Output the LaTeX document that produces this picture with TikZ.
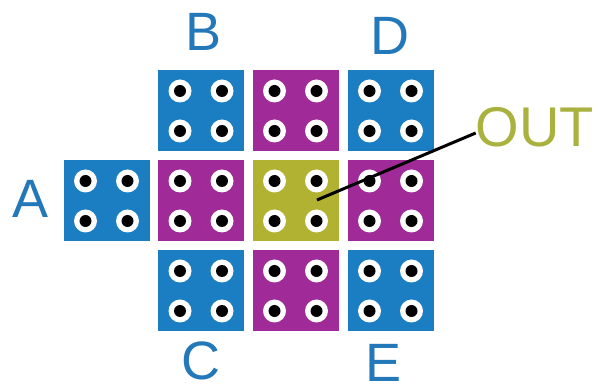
\documentclass[tikz,border=0pt]{standalone}
\usepackage{fontspec}
\setmainfont{Liberation Sans}
\definecolor{pblue}{HTML}{1C7EC2}
\definecolor{pmag}{HTML}{A02A98}
\definecolor{polive}{HTML}{B2B232}
\definecolor{lblue}{HTML}{2278B8}
\definecolor{lolive}{HTML}{A9B23E}
\begin{document}
\begin{tikzpicture}[x=1pt,y=-1pt,
  pad/.style={rectangle, fill=#1, minimum width=86pt, minimum height=81pt, inner sep=0pt},
  lbl/.style={text=lblue, font=\fontsize{54}{54}\selectfont, inner sep=0pt},
  outlbl/.style={text=lolive, font=\fontsize{56}{56}\selectfont, inner sep=0pt},
  ring/.style={fill=white},
  hole/.style={fill=black},
  lead/.style={draw=black, line width=3pt}]
\useasboundingbox (0,0) rectangle (600,387);
\foreach \n/\x/\y/\c in {
    pA/106.5/201/pblue,
    pB/201/111/pblue, pBD/295.5/111/pmag, pD/390.5/111/pblue,
    pL/201/201/pmag, pO/295.5/201/polive, pR/390.5/201/pmag,
    pC/201/291/pblue, pCE/295.5/291/pmag, pE/390.5/291/pblue} {
  \node[pad=\c] (\n) at (\x,\y) {};
  \foreach \dx in {-21,21} {
    \foreach \dy in {-20,20} {
      \fill[ring] (\x+\dx,\y+\dy) circle[radius=11.5pt];
      \fill[hole] (\x+\dx,\y+\dy) circle[radius=6pt];
    }
  }
}
\node[lbl] (lA) at (31,199) {A};
\node[lbl] (lB) at (204,32) {B};
\node[lbl] (lD) at (390,36) {D};
\node[lbl] (lC) at (201,361) {C};
\node[lbl] (lE) at (384,363) {E};
\node[outlbl] (out) at (535,127) {OUT};
\coordinate (tap) at (317,200);
\draw[lead] (tap) -- ([yshift=-6pt]out.west);
\end{tikzpicture}
\end{document}
